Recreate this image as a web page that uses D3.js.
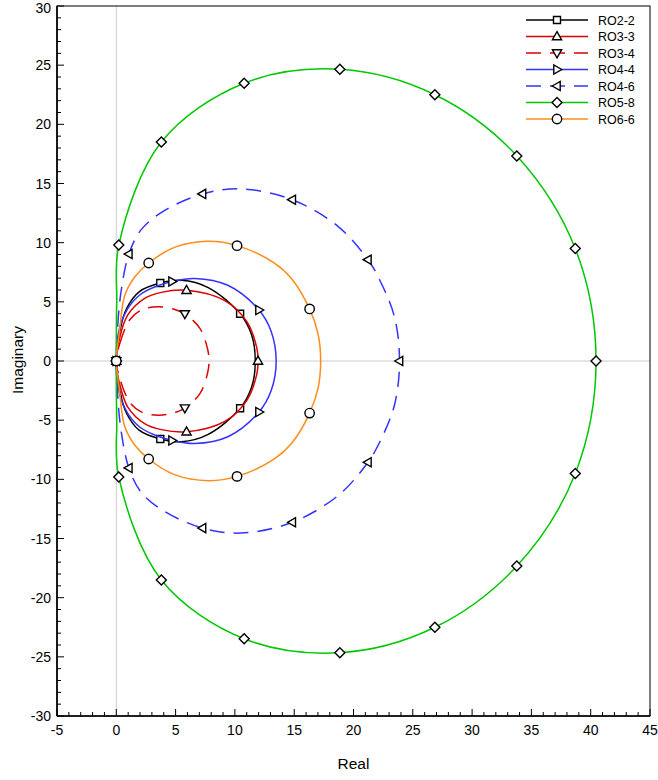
<!DOCTYPE html>
<html>
<head>
<meta charset="utf-8">
<script src="https://cdn.jsdelivr.net/npm/d3@7"></script>
<style>
  html, body { margin: 0; padding: 0; background: #fff; }
  svg { display: block; font-family: "Liberation Sans", Arial, sans-serif; }
</style>
</head>
<body>
<svg id="chart" width="658" height="780"></svg>
<script>
// Stability-function loci in the complex plane; each loop starts and ends at the origin.
const seriesNames = ["RO2-2", "RO3-3", "RO3-4", "RO4-4", "RO4-6", "RO5-8", "RO6-6"];

const ro22 = [[0,0],[0.35,2.76],[0.88,4.46],[1.95,5.87],[3.71,6.59],[5.49,6.82],[7.75,6.2],[10.44,3.99],[11.42,2.17],[11.72,0],
  [11.42,-2.17],[10.44,-3.99],[7.75,-6.2],[5.49,-6.82],[3.71,-6.59],[1.95,-5.87],[0.88,-4.46],[0.35,-2.76]];
const ro22Marks = [[0,0],[3.71,6.59],[10.44,3.99],[10.44,-3.99],[3.71,-6.59]];

const ro33 = [[0,0],[0.27,1.91],[0.97,3.89],[2.39,5.29],[3.8,5.8],[5.92,5.98],[9.15,5.1],[11.02,3.3],[11.86,1.04],[11.95,0],
  [11.86,-1.04],[11.02,-3.3],[9.15,-5.1],[5.92,-5.98],[3.8,-5.8],[2.39,-5.29],[0.97,-3.89],[0.27,-1.91]];
const ro33Marks = [[0,0],[5.92,5.98],[11.95,0],[5.92,-5.98]];

const ro34 = [[0,0],[0.3,1.5],[1.14,3.49],[2.1,4.3],[3.52,4.59],[4.93,4.36],[5.78,3.98],[7.05,2.76],[7.7,1.0],[7.82,0],
  [7.7,-1.0],[7.05,-2.76],[5.78,-3.98],[4.93,-4.36],[3.52,-4.59],[2.1,-4.3],[1.14,-3.49],[0.3,-1.5]];
const ro34Marks = [[0,0],[5.78,3.98],[5.78,-3.98]];

const ro44 = [[0,0],[0.3,2.9],[0.95,4.4],[2.0,5.6],[3.3,6.28],[4.7,6.72],[6.6,6.98],[9.4,6.4],[12.03,4.31],[13.06,2.5],[13.48,0],
  [13.06,-2.5],[12.03,-4.31],[9.4,-6.4],[6.6,-6.98],[4.7,-6.72],[3.3,-6.28],[2.0,-5.6],[0.95,-4.4],[0.3,-2.9]];
const ro44Marks = [[0,0],[4.7,6.72],[12.03,4.31],[12.03,-4.31],[4.7,-6.72]];

const ro46 = [[0,0],[0.12,3],[0.42,6],[1.06,9.04],[2.1,11.1],[4.05,12.7],[7.27,14.12],[10.54,14.54],[14.84,13.63],[18.69,11.38],[21.22,8.56],[22.2,6.87],[23.45,3.74],[23.88,0],
  [23.45,-3.74],[22.2,-6.87],[21.22,-8.56],[18.69,-11.38],[14.84,-13.63],[10.54,-14.54],[7.27,-14.12],[4.05,-12.7],[2.1,-11.1],[1.06,-9.04],[0.42,-6],[0.12,-3]];
const ro46Marks = [[0,0],[1.06,9.04],[7.27,14.12],[14.84,13.63],[21.22,8.56],[23.88,0],[21.22,-8.56],[14.84,-13.63],[7.27,-14.12],[1.06,-9.04]];

const ro58 = [[0,0],[0.04,5],[0.21,9.8],[3.8,18.5],[10.78,23.47],[18.85,24.65],[26.86,22.5],[33.77,17.33],[38.7,9.5],[40.45,0],
  [38.7,-9.5],[33.77,-17.33],[26.86,-22.5],[18.85,-24.65],[10.78,-23.47],[3.8,-18.5],[0.21,-9.8],[0.04,-5]];
const ro58Marks = [[0,0],[0.21,9.8],[3.8,18.5],[10.78,23.47],[18.85,24.65],[26.86,22.5],[33.77,17.33],[38.7,9.5],[40.45,0],
  [38.7,-9.5],[33.77,-17.33],[26.86,-22.5],[18.85,-24.65],[10.78,-23.47],[3.8,-18.5],[0.21,-9.8]];

const ro66 = [[0,0],[0.27,2.48],[0.7,5.5],[1.55,7.1],[2.73,8.28],[4.9,9.6],[7.75,10.11],[10.18,9.75],[13.3,8.3],[14.75,7.0],[16.3,4.4],[17.03,2.2],[17.23,0],
  [17.03,-2.2],[16.3,-4.4],[14.75,-7.0],[13.3,-8.3],[10.18,-9.75],[7.75,-10.11],[4.9,-9.6],[2.73,-8.28],[1.55,-7.1],[0.7,-5.5],[0.27,-2.48]];
const ro66Marks = [[0,0],[2.73,8.28],[10.18,9.75],[16.3,4.4],[16.3,-4.4],[10.18,-9.75],[2.73,-8.28]];

const xTickValues = [-5,0,5,10,15,20,25,30,35,40,45];
const yTickValues = [-30,-25,-20,-15,-10,-5,0,5,10,15,20,25,30];

const series = [
  { name: seriesNames[0], pts: ro22, marks: ro22Marks, color: "#000000", dash: null, shape: "square" },
  { name: seriesNames[1], pts: ro33, marks: ro33Marks, color: "#dd0000", dash: null, shape: "triUp" },
  { name: seriesNames[2], pts: ro34, marks: ro34Marks, color: "#dd0000", dash: "15,9", shape: "triDown" },
  { name: seriesNames[3], pts: ro44, marks: ro44Marks, color: "#3333ff", dash: null, shape: "triRight" },
  { name: seriesNames[4], pts: ro46, marks: ro46Marks, color: "#3333ff", dash: "15,9", shape: "triLeft" },
  { name: seriesNames[5], pts: ro58, marks: ro58Marks, color: "#00c800", dash: null, shape: "diamond" },
  { name: seriesNames[6], pts: ro66, marks: ro66Marks, color: "#ff8c1a", dash: null, shape: "circle" }
];

const svg = d3.select("#chart");
const L = 57, R = 650, T = 6, B = 716;
const x = d3.scaleLinear().domain([-5, 45]).range([L, R]);
const y = d3.scaleLinear().domain([-30, 30]).range([B, T]);

// zero lines
svg.append("line").attr("x1", x(0)).attr("x2", x(0)).attr("y1", T).attr("y2", B)
  .attr("stroke", "#cccccc").attr("stroke-width", 1);
svg.append("line").attr("x1", L).attr("x2", R).attr("y1", y(0)).attr("y2", y(0))
  .attr("stroke", "#cccccc").attr("stroke-width", 1);

// marker shapes, centred on (0,0)
function markerPath(shape) {
  switch (shape) {
    case "square": return "M-3.5,-3.5H3.5V3.5H-3.5Z";
    case "triUp": return "M0,-4.8L4.6,3.2H-4.6Z";
    case "triDown": return "M0,4.8L4.6,-3.2H-4.6Z";
    case "triRight": return "M4.8,0L-3.2,-4.6V4.6Z";
    case "triLeft": return "M-4.8,0L3.2,-4.6V4.6Z";
    case "diamond": return "M0,-5L5,0L0,5L-5,0Z";
    default: return null;
  }
}
function drawMarker(g, shape, px, py) {
  if (shape === "circle") {
    g.append("circle").attr("cx", px).attr("cy", py).attr("r", 4.7)
      .attr("fill", "#fff").attr("stroke", "#000").attr("stroke-width", 1.4);
  } else {
    g.append("path").attr("d", markerPath(shape)).attr("transform", `translate(${px},${py})`)
      .attr("fill", "#fff").attr("stroke", "#000").attr("stroke-width", 1.4);
  }
}

const loop = d3.line().x(d => x(d[0])).y(d => y(d[1])).curve(d3.curveCatmullRomClosed.alpha(0.5));

series.forEach(s => {
  const g = svg.append("g");
  g.append("path").attr("d", loop(s.pts)).attr("fill", "none")
    .attr("stroke", s.color).attr("stroke-width", 1.5)
    .attr("stroke-dasharray", s.dash);
  s.marks.forEach(m => drawMarker(g, s.shape, x(m[0]), y(m[1])));
});

// frame
svg.append("rect").attr("x", L).attr("y", T).attr("width", R - L).attr("height", B - T)
  .attr("fill", "none").attr("stroke", "#000").attr("stroke-width", 1);
svg.append("line").attr("x1", L).attr("x2", R).attr("y1", B).attr("y2", B).attr("stroke", "#000").attr("stroke-width", 1.6);
svg.append("line").attr("x1", L).attr("x2", L).attr("y1", T).attr("y2", B).attr("stroke", "#000").attr("stroke-width", 1.6);

// ticks: majors from the tick arrays, minors every unit
const ax = svg.append("g").attr("stroke", "#000").attr("stroke-width", 1);
d3.range(-5, 46, 1).forEach(v => {
  const major = xTickValues.includes(v);
  ax.append("line").attr("x1", x(v)).attr("x2", x(v)).attr("y1", B).attr("y2", B - (major ? 7 : 4));
});
d3.range(-30, 31, 1).forEach(v => {
  const major = yTickValues.includes(v);
  ax.append("line").attr("x1", L).attr("x2", L + (major ? 7 : 4)).attr("y1", y(v)).attr("y2", y(v));
});

svg.append("g").selectAll("text").data(xTickValues).join("text")
  .attr("x", d => x(d)).attr("y", B + 19).attr("text-anchor", "middle")
  .attr("font-size", 14).text(d => d);
// keep the topmost label inside the page
svg.append("g").selectAll("text").data(yTickValues).join("text")
  .attr("x", L - 6).attr("y", d => Math.max(y(d) + 5, 13)).attr("text-anchor", "end")
  .attr("font-size", 14).text(d => d);

svg.append("text").attr("x", x(20)).attr("y", 769).attr("text-anchor", "middle")
  .attr("font-size", 15.5).text("Real");
svg.append("text").attr("transform", "translate(23,360) rotate(-90)").attr("text-anchor", "middle")
  .attr("font-size", 15.5).text("Imaginary");

// legend
const lg = svg.append("g");
series.forEach((s, i) => {
  const ly = 20 + i * 16.5;
  lg.append("line").attr("x1", 526).attr("x2", 588).attr("y1", ly).attr("y2", ly)
    .attr("stroke", s.color).attr("stroke-width", 1.5).attr("stroke-dasharray", s.dash);
  drawMarker(lg, s.shape, 557, ly);
  lg.append("text").attr("x", 598).attr("y", ly + 4.5).attr("font-size", 12.5).text(s.name);
});
</script>
</body>
</html>
